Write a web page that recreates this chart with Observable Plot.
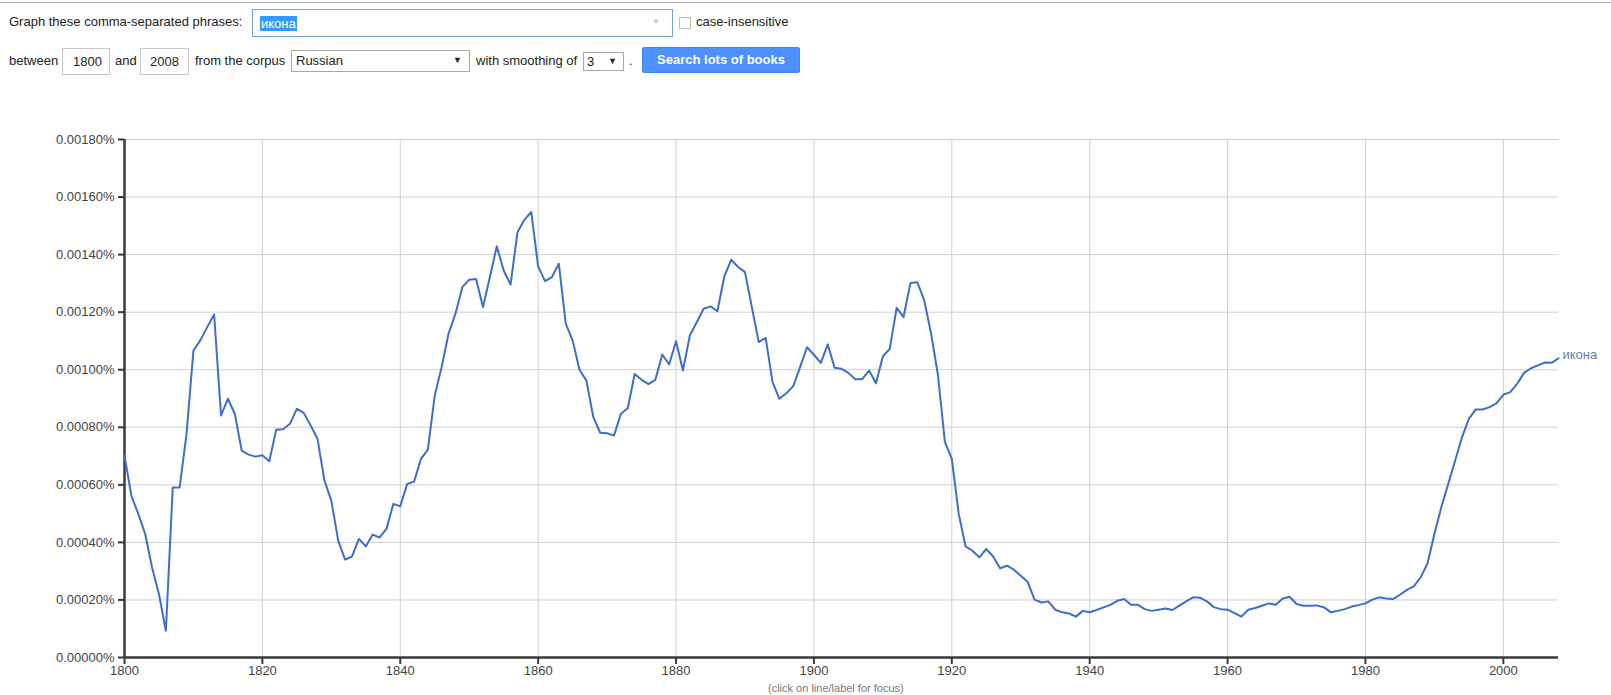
<!DOCTYPE html>
<html>
<head>
<meta charset="utf-8">
<script src="https://cdn.jsdelivr.net/npm/d3@7"></script>
<script src="https://cdn.jsdelivr.net/npm/@observablehq/plot@0.6"></script>
<style>
  html, body { margin: 0; padding: 0; background: #fff; }
  body { width: 1611px; height: 695px; overflow: hidden; font-family: Arial, "Liberation Sans", sans-serif; font-size: 13px; color: #222; }
  #form { position: relative; height: 100px; }
  #form .a { position: absolute; white-space: nowrap; }
  .topline { left: 0; top: 2px; width: 1611px; height: 0; border-top: 1px solid #aaa; }
  .lbl { line-height: 16px; }
  .box { border: 1px solid #c8c8c8; box-sizing: border-box; background: #fff; line-height: 25px; }
  .sel { border: 1px solid #a8a8a8; box-sizing: border-box; background: #fff; }
  .arrow { position: absolute; font-size: 9px; color: #222; }
  #chart { position: absolute; left: 0; top: 100px; }
  #chart svg { display: block; }
</style>
</head>
<body>
<div id="form">
  <div class="a topline"></div>
  <div class="a lbl" style="left:9px; top:14px;">Graph these comma-separated phrases:</div>
  <div class="a" style="left:252px; top:9px; width:421px; height:28px; border:1px solid #76a0d6; box-sizing:border-box;">
    <span style="position:absolute; left:7px; top:6px; background:#3399ff; color:#fff; line-height:15px; padding:0 1px;">икона</span>
    <span style="position:absolute; right:12px; top:7px; font-size:8px; color:#c8c8c8;">▼</span>
  </div>
  <div class="a" style="left:679px; top:17px; width:12px; height:12px; border:1px solid #bdbdbd; box-sizing:border-box;"></div>
  <div class="a lbl" style="left:696px; top:14px;">case-insensitive</div>

  <div class="a lbl" style="left:9px; top:53px;">between</div>
  <div class="a box" style="left:62px; top:48px; width:48px; height:27px; padding-left:10px;">1800</div>
  <div class="a lbl" style="left:115px; top:53px;">and</div>
  <div class="a box" style="left:140px; top:48px; width:49px; height:27px; padding-left:9px;">2008</div>
  <div class="a lbl" style="left:195px; top:53px;">from the corpus</div>
  <div class="a sel" style="left:291px; top:50px; width:179px; height:22px;">
    <span style="position:absolute; left:4px; top:2px; line-height:16px;">Russian</span>
    <span class="arrow" style="right:7px; top:4px;">▼</span>
  </div>
  <div class="a lbl" style="left:476px; top:53px;">with smoothing of</div>
  <div class="a sel" style="left:583px; top:52px; width:41px; height:19px;">
    <span style="position:absolute; left:3px; top:1px; line-height:16px;">3</span>
    <span class="arrow" style="right:6px; top:3px;">▼</span>
  </div>
  <div class="a lbl" style="left:629px; top:53px;">.</div>
  <div class="a" style="left:642px; top:47px; width:158px; height:26px; background:#4d90fe; border:1px solid #3f85f4; box-sizing:border-box; border-radius:2px; color:#fff; font-weight:bold; text-align:center; line-height:24px;">Search lots of books</div>
</div>
<div id="chart"></div>
<div style="position:absolute; left:768px; top:682px; font-size:11px; line-height:12px; color:#777; white-space:nowrap;">(click on line/label for focus)</div>
<script>
const phrase = "икона";
const startYear = 1800;
const endYear = 2008;
const xTicks = [1800, 1820, 1840, 1860, 1880, 1900, 1920, 1940, 1960, 1980, 2000];
const yTicks = [0, 0.0002, 0.0004, 0.0006, 0.0008, 0.0010, 0.0012, 0.0014, 0.0016, 0.0018];

// frequency of "икона" in percent, one value per year 1800..2008
const values1800s = [
  0.000702, 0.000562, 0.000499, 0.000429, 0.000313, 0.000220, 0.000093, 0.000591, 0.000591, 0.000777,
  0.001067, 0.001102, 0.001148, 0.001192, 0.000841, 0.000899, 0.000847, 0.000719, 0.000705, 0.000698,
  0.000703, 0.000682, 0.000791, 0.000793, 0.000812, 0.000864, 0.000850, 0.000806, 0.000760, 0.000615,
  0.000545, 0.000406, 0.000340, 0.000351, 0.000412, 0.000386, 0.000427, 0.000417, 0.000447, 0.000534,
  0.000525, 0.000603, 0.000611, 0.000690, 0.000722, 0.000910, 0.001009, 0.001125, 0.001194, 0.001287,
  0.001313, 0.001315, 0.001217, 0.001322, 0.001429, 0.001345, 0.001296, 0.001478, 0.001521, 0.001548,
  0.001359, 0.001308, 0.001322, 0.001368, 0.001160, 0.001102, 0.001000, 0.000962, 0.000835, 0.000781,
  0.000779, 0.000771, 0.000847, 0.000866, 0.000985, 0.000965, 0.000950, 0.000965, 0.001053, 0.001018,
  0.001099, 0.000997, 0.001119, 0.001165, 0.001212, 0.001220, 0.001203, 0.001324, 0.001382, 0.001357,
  0.001339, 0.001217, 0.001096, 0.001111, 0.000957, 0.000899, 0.000918, 0.000943, 0.001009, 0.001078
];
const values1900s = [
  0.001052, 0.001024, 0.001088, 0.001007, 0.001003, 0.000989, 0.000967, 0.000967, 0.000997, 0.000953,
  0.001046, 0.001073, 0.001215, 0.001183, 0.001301, 0.001304, 0.001241, 0.001125, 0.000980, 0.000748,
  0.000690, 0.000499, 0.000386, 0.000371, 0.000348, 0.000377, 0.000351, 0.000310, 0.000319, 0.000305,
  0.000284, 0.000263, 0.000201, 0.000191, 0.000195, 0.000166, 0.000157, 0.000153, 0.000142, 0.000162,
  0.000157, 0.000165, 0.000174, 0.000183, 0.000197, 0.000203, 0.000183, 0.000183, 0.000168, 0.000162,
  0.000166, 0.000170, 0.000165, 0.000180, 0.000195, 0.000209, 0.000208, 0.000195, 0.000175, 0.000168,
  0.000166, 0.000154, 0.000142, 0.000166, 0.000172, 0.000180, 0.000188, 0.000183, 0.000205, 0.000211,
  0.000186, 0.000180, 0.000180, 0.000181, 0.000174, 0.000157, 0.000162, 0.000168, 0.000177, 0.000182,
  0.000188, 0.000201, 0.000209, 0.000205, 0.000203, 0.000218, 0.000235, 0.000247, 0.000278, 0.000327,
  0.000429, 0.000522, 0.000603, 0.000684, 0.000765, 0.000829, 0.000862, 0.000862, 0.000870, 0.000883
];
const values2000s = [
  0.000913, 0.000922, 0.000951, 0.000989, 0.001005, 0.001015, 0.001025, 0.001024, 0.001040
];

const values = [...values1800s, ...values1900s, ...values2000s];
const data = values.map((v, i) => ({year: startYear + i, value: v}));
const last = data[data.length - 1];

const lineColor = "#3f6ec6";
const gridColor = "#cfcfcf";
const axisColor = "#3a3a3a";

const chart = Plot.plot({
  width: 1611,
  height: 595,
  marginTop: 39,
  marginBottom: 38,
  marginLeft: 124,
  marginRight: 53,
  style: {fontFamily: "Arial, 'Liberation Sans', sans-serif", fontSize: "13px", color: "#444", background: "#fff"},
  x: {domain: [startYear, endYear], label: null},
  y: {domain: [0, 0.0018], label: null},
  marks: [
    Plot.gridX(xTicks, {stroke: gridColor, strokeOpacity: 1, strokeWidth: 1}),
    Plot.gridY(yTicks, {stroke: gridColor, strokeOpacity: 1, strokeWidth: 1}),
    Plot.axisX(xTicks, {tickSize: 7, tickPadding: 1, tickFormat: d => String(d), stroke: axisColor, strokeWidth: 2, fill: "#444", label: null}),
    Plot.axisY(yTicks, {tickSize: 6, tickPadding: 4, tickFormat: d => d.toFixed(5) + "%", stroke: axisColor, strokeWidth: 2, fill: "#444", label: null}),
    Plot.ruleX([startYear], {stroke: axisColor, strokeWidth: 2.5}),
    Plot.ruleY([0], {stroke: axisColor, strokeWidth: 2.5}),
    Plot.lineY(data, {x: "year", y: "value", stroke: lineColor, strokeWidth: 2}),
    Plot.text([last], {x: "year", y: "value", text: () => phrase, dx: 4, dy: -3, textAnchor: "start", fill: "#6a80ac", fontSize: 13})
  ]
});
document.getElementById("chart").appendChild(chart);
</script>
</body>
</html>
